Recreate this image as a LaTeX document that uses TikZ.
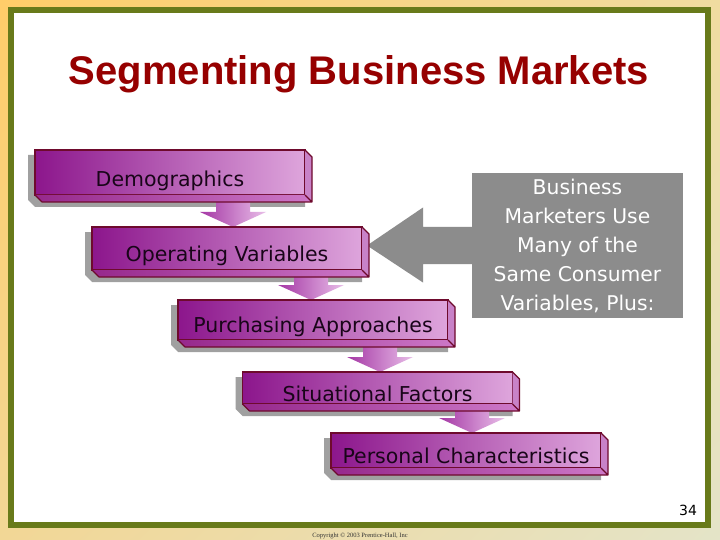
\documentclass[tikz,border=0pt]{standalone}
\usepackage{fontspec}
\setmainfont{DejaVu Sans}
\newfontfamily\titlefont{Liberation Sans}
\newfontfamily\smallserif{Liberation Serif}
\usetikzlibrary{calc,shadings}
\pgfdeclarelayer{bglayer}
\pgfdeclarelayer{shadowlayer}
\pgfdeclarelayer{arrowlayer}
\pgfsetlayers{bglayer,shadowlayer,arrowlayer,main}

\definecolor{frameGreen}{RGB}{104,122,26}
\definecolor{titleRed}{RGB}{150,0,0}
\definecolor{barDark}{RGB}{140,22,140}
\definecolor{barLight}{RGB}{222,165,220}
\definecolor{barEdge}{RGB}{110,10,45}
\definecolor{barSide}{RGB}{200,130,200}
\definecolor{barBotDark}{RGB}{150,40,140}
\definecolor{barBotLight}{RGB}{205,120,200}
\definecolor{arrDark}{RGB}{165,55,165}
\definecolor{arrLight}{RGB}{232,190,232}
\definecolor{shadowGrey}{RGB}{160,160,160}
\definecolor{calloutGrey}{RGB}{140,140,140}
\definecolor{bgUL}{RGB}{255,205,105}
\definecolor{bgUR}{RGB}{240,220,160}
\definecolor{bgLL}{RGB}{242,215,150}
\definecolor{bgLR}{RGB}{228,228,200}
\definecolor{barText}{RGB}{25,5,25}

\tikzset{
  bar/.style={rectangle, draw=barEdge, line width=1.2pt, left color=barDark, right color=barLight,
    minimum width=270pt, inner sep=0pt, outer sep=0pt},
  bartext/.style={font=\fontsize{20.5}{24}\selectfont, text=barText, inner sep=0pt},
  callout/.style={rectangle, fill=calloutGrey, text=white, minimum width=211pt, minimum height=145pt,
    align=center, inner sep=0pt, font=\fontsize{20.3}{29}\selectfont},
  edgeline/.style={draw=barEdge, line width=1.2pt, line join=round}
}

% #1 name, #2 cx, #3 cy, #4 height, #5 baseline, #6 text
\newcommand{\mkbar}[6]{%
  \node[bar, minimum height=#4pt] (#1) at (#2,#3) {};
  \fill[barSide] (#1.north east) -- ([shift={(7,7)}]#1.north east) -- ([shift={(7,7)}]#1.south east) -- (#1.south east) -- cycle;
  \shade[left color=barBotDark, right color=barBotLight] (#1.south west) -- (#1.south east) -- ([shift={(7,7)}]#1.south east) -- ([shift={(7,7)}]#1.south west) -- cycle;
  \draw[edgeline] (#1.north east) -- ([shift={(7,7)}]#1.north east) -- ([shift={(7,7)}]#1.south east) -- ([shift={(7,7)}]#1.south west) -- (#1.south west)
    (#1.south east) -- ([shift={(7,7)}]#1.south east);
  \begin{pgfonlayer}{shadowlayer}
    \fill[shadowGrey] ([shift={(-7,5)}]#1.north west) -- ([shift={(-7,5)}]#1.north east) -- ([shift={(0,12)}]#1.north east)
      -- ([shift={(0,12)}]#1.south east) -- ([shift={(0,12)}]#1.south west) -- ([shift={(-7,5)}]#1.south west) -- cycle;
  \end{pgfonlayer}
  \node[bartext, anchor=base] (#1t) at (#2,#5) {#6};
}

% #1 from, #2 to, #3 cx
\newcommand{\mkarrow}[3]{%
  \begin{pgfonlayer}{arrowlayer}
    \shade[left color=arrDark, right color=arrLight] let \p1=(#1.south), \p2=(#2.north) in
      ({(#3-17)*1pt},\y1) -- ({(#3+17)*1pt},\y1) -- ({(#3+17)*1pt},{\y2+15pt}) -- ({(#3+33)*1pt},{\y2+15pt})
      -- ({#3*1pt},\y2) -- ({(#3-33)*1pt},{\y2+15pt}) -- ({(#3-17)*1pt},{\y2+15pt}) -- cycle;
  \end{pgfonlayer}
}

\begin{document}
\begin{tikzpicture}[x=1pt,y=-1pt]
\useasboundingbox (0,0) rectangle (720,540);
\begin{pgfonlayer}{bglayer}
  \shade[upper left=bgUL, upper right=bgUR, lower left=bgLL, lower right=bgLR] (0,0) rectangle (720,540);
  \fill[white] (11,10) rectangle (708,525);
  \draw[frameGreen, line width=6pt] (11,10) rectangle (708,525);
\end{pgfonlayer}

\node[font=\titlefont\bfseries\fontsize{40}{48}\selectfont, text=titleRed, anchor=base, inner sep=0pt] (title) at (359,85) {Segmenting Business Markets};

\mkbar{b1}{170}{172.5}{45}{187}{Demographics}
\mkbar{b2}{227}{248.5}{43}{261}{Operating Variables}
\mkbar{b3}{313}{320}{40}{332}{Purchasing Approaches}
\mkbar{b4}{377.5}{388}{32}{401}{Situational Factors}
\mkbar{b5}{466}{450.5}{35}{463}{Personal Characteristics}

\mkarrow{b1}{b2}{233}
\mkarrow{b2}{b3}{311}
\mkarrow{b3}{b4}{380}
\mkarrow{b4}{b5}{472}

\node[callout] (c) at (577.5,245.5) {Business\\Marketers Use\\Many of the\\Same Consumer\\Variables, Plus:};
\begin{pgfonlayer}{arrowlayer}
  \fill[calloutGrey] let \p1=(c.west), \p2=(b2.east) in
    ({\x1+1pt},{\y1+18.5pt}) -- (423pt,{\y1+18.5pt}) -- (423pt,{\y1+38pt}) -- ({\x2+5pt},\y1)
    -- (423pt,{\y1-37pt}) -- (423pt,{\y1-18.5pt}) -- ({\x1+1pt},{\y1-18.5pt}) -- cycle;
\end{pgfonlayer}

\node[font=\fontsize{14}{16}\selectfont, anchor=base, inner sep=0pt] (pg) at (688,515) {34};
\node[font=\smallserif\fontsize{6.5}{8}\selectfont, anchor=base, text=black!80, inner sep=0pt] (copy) at (360,537) {Copyright © 2003 Prentice-Hall, Inc};
\end{tikzpicture}
\end{document}
